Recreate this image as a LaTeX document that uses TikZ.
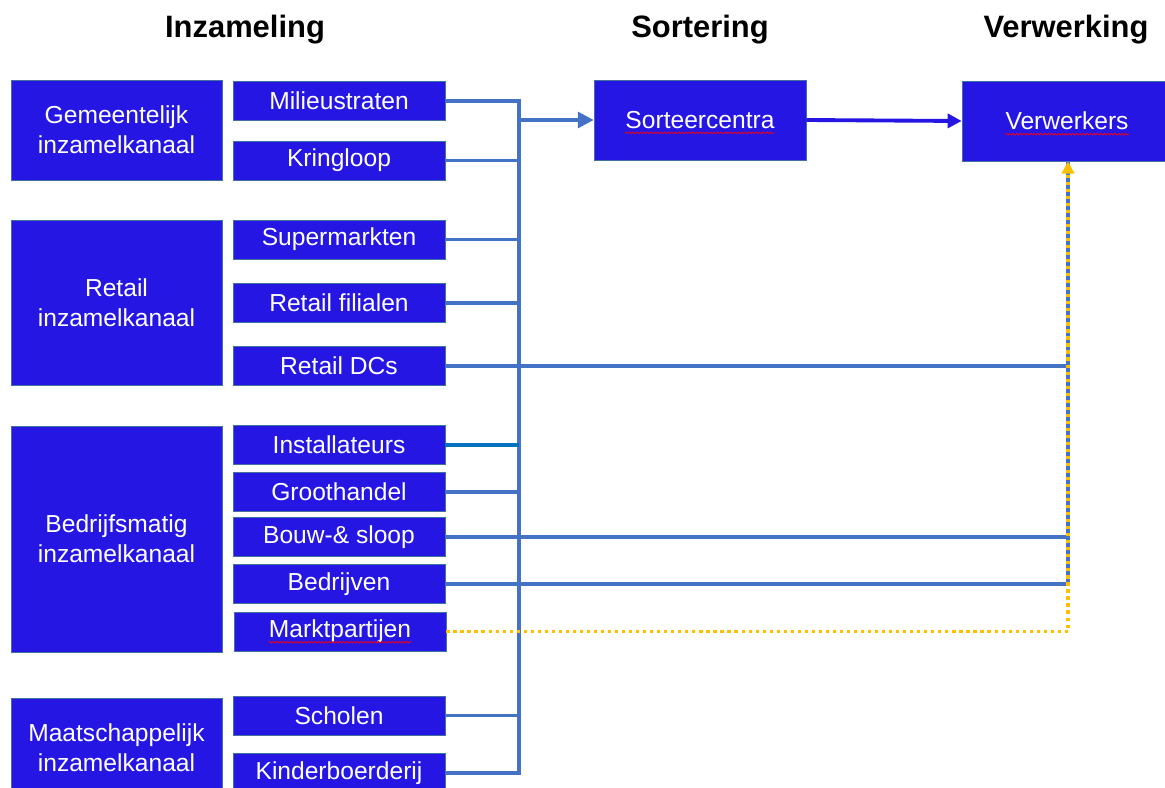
\documentclass[tikz,border=0pt]{standalone}
\usepackage{fontspec}
\setmainfont{Liberation Sans}
\usetikzlibrary{arrows.meta,decorations.pathmorphing}

\definecolor{boxblue}{RGB}{37,22,228}
\definecolor{edgeblue}{RGB}{65,113,156}
\definecolor{lineblue}{RGB}{68,114,196}
\definecolor{darkline}{RGB}{0,112,192}
\definecolor{dotyellow}{RGB}{255,192,0}

\tikzset{
  chan/.style={draw=edgeblue, fill=boxblue, text=white, align=center,
    font=\fontsize{14}{17}\selectfont, minimum width=4.22cm, inner sep=0pt},
  src/.style={draw=edgeblue, fill=boxblue, text=white,
    font=\fontsize{14}{17}\selectfont, minimum width=4.24cm,
    minimum height=0.78cm, inner sep=0pt},
  plain/.style={text=white, font=\fontsize{14}{17}\selectfont, inner sep=0pt},
  head/.style={font=\fontsize{17.6}{20}\selectfont\bfseries},
  conn/.style={draw=lineblue, line width=2pt},
  spell/.style={draw=red, line width=0.4pt, decorate,
    decoration={snake, amplitude=0.5pt, segment length=2pt}}
}

\begin{document}
\begin{tikzpicture}[x=0.02cm, y=-0.02cm]
\useasboundingbox (0,0) rectangle (1165,787);

% kolomkoppen
\node[head] (hInz) at (245,30) {Inzameling};
\node[head] (hSor) at (700,30) {Sortering};
\node[head] (hVer) at (1066,30) {Verwerking};

% kanalen
\node[chan, minimum height=2cm] (gem) at (116.5,130) {Gemeentelijk\\inzamelkanaal};
\node[chan, minimum height=3.3cm] (ret) at (116.5,302.5) {Retail\\inzamelkanaal};
\node[chan, minimum height=4.52cm] (bed) at (116.5,539) {Bedrijfsmatig\\inzamelkanaal};
\node[chan, minimum height=2cm] (maa) at (116.5,748) {Maatschappelijk\\inzamelkanaal};

% bronnen
\node[src] (mil) at (339,101) {Milieustraten};
\node[src] (kri) at (339,160.5) {Kringloop};
\node[src] (sup) at (339,239.5) {Supermarkten};
\node[src] (fil) at (339,303) {Retail filialen};
\node[src] (dcs) at (339,366) {Retail DCs};
\node[src] (ins) at (339,445) {Installateurs};
\node[src] (gro) at (339,492) {Groothandel};
\node[src] (bou) at (339,537) {Bouw-\& sloop};
\node[src] (bdr) at (339,584) {Bedrijven};
\node[src] (mkt) at (340,631.5) {};
\node[plain] (mktT) at (mkt) {Marktpartijen};
\node[src] (sch) at (339,715.5) {Scholen};
\node[src] (kin) at (339,773) {Kinderboerderij};

% sortering en verwerking
\node[src, minimum height=1.6cm] (sor) at (700,120) {};
\node[plain] (sorT) at (sor) {Sorteercentra};
\node[src, minimum width=4.2cm, minimum height=1.6cm] (ver) at (1067,121) {};
\node[plain] (verT) at (ver) {Verwerkers};

\draw[spell] ([yshift=-2.5pt]sorT.base west) -- ([yshift=-2.5pt]sorT.base east);
\draw[spell] ([yshift=-2.5pt]verT.base west) -- ([yshift=-2.5pt]verT.base east);
\draw[spell] ([yshift=-2.5pt]mktT.base west) -- ([yshift=-2.5pt]mktT.base east);

% verzamelleiding naar sorteercentra
\coordinate (busTop) at (519,101);
\coordinate (busBot) at (519,773);
\draw[conn] (mil.east) -- (busTop) -- (busBot) -- (kin.east);
\foreach \n in {kri,sup,fil,gro,sch}
  \draw[conn] (\n.east) -- (\n.east -| busTop);
\draw[conn, draw=darkline] (ins.east) -- (ins.east -| busTop);
\draw[conn, -{Triangle[length=9pt,width=9pt]}] (sor.west -| busTop) -- (sor.west);
\draw[draw=boxblue, line width=2.2pt, -{Triangle[length=8pt,width=8pt]}] (sor.east) -- (ver.west);

% directe stromen naar verwerkers
\coordinate (riser) at (1068,631.5);
\foreach \n in {dcs,bou,bdr}
  \draw[conn] (\n.east) -- (\n.east -| riser);
\draw[conn] (bdr.east -| riser) -- (ver.south -| riser);
\draw[draw=dotyellow, line width=1.8pt, dash pattern=on 1.8pt off 2.2pt,
  -{Triangle[length=7pt,width=7pt]}]
  (mkt.east) -- (riser) -- (ver.south -| riser);
\end{tikzpicture}
\end{document}
